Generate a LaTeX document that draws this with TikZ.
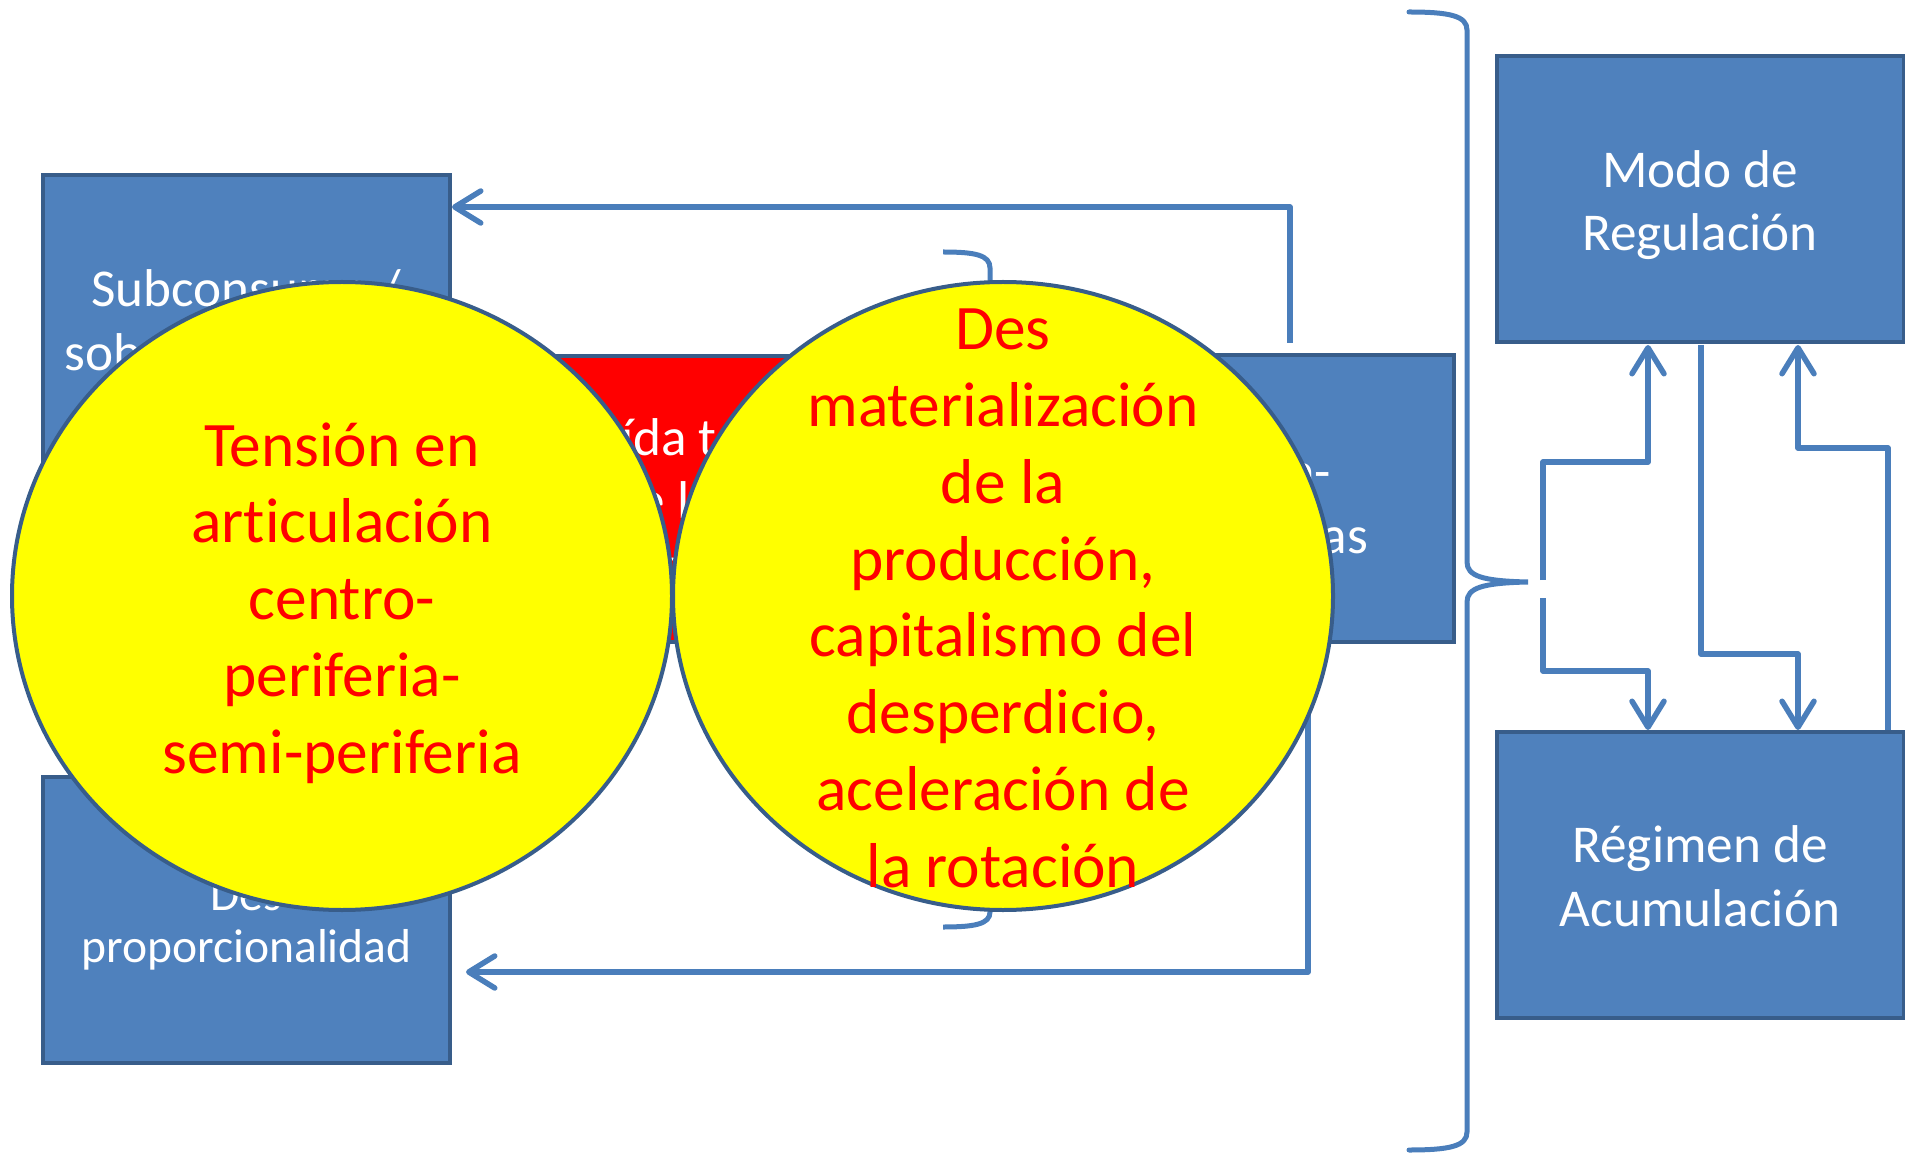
\documentclass[tikz,border=0pt]{standalone}
\usepackage{fontspec}
\setmainfont{Carlito}[Ligatures=NoCommon]
\usetikzlibrary{arrows.meta,shapes.geometric}
\definecolor{boxfill}{HTML}{4F81BD}
\definecolor{boxline}{HTML}{385D8A}
\definecolor{conn}{HTML}{4A7EBB}
\definecolor{ylw}{HTML}{FFFF00}
\definecolor{rd}{HTML}{FF0000}
\begin{document}
\begin{tikzpicture}[x=0.5pt,y=-0.5pt,
  box/.style={draw=boxline, line width=2pt, fill=boxfill, minimum width=203.5pt, minimum height=143pt, inner sep=0pt},
  redbox/.style={box, fill=rd},
  boxtext/.style={inner sep=0pt, text=white, align=center, font=\fontsize{26.6}{31.8}\selectfont},
  smalltext/.style={boxtext, font=\fontsize{23.8}{26}\selectfont},
  blob/.style={ellipse, draw=boxline, line width=2pt, fill=ylw, minimum width=330pt, minimum height=314pt, inner sep=0pt},
  blobtext/.style={text=rd, align=center, font=\fontsize{31.7}{38.4}\selectfont, inner sep=0pt},
  link/.style={draw=conn, line width=2.75pt, line join=round},
  arr/.style={link, -{Straight Barb[length=13pt,width=16pt,round]}},
  brace/.style={draw=conn, line width=2.5pt, line cap=round}
]
\useasboundingbox (0,0) rectangle (1905,1154);

% boxes
\node[box] (A) at (246.5,318.5) {};
\node[boxtext] (At) at ([yshift=-3pt]A.center) {Subconsumo /\\sobreproducción};
\node[box] (D) at (246.5,919.5) {};
\node[smalltext] (Dt) at ([yshift=-3pt]D.center) {Des\\proporcionalidad};
\node[redbox] (B) at (746.5,499) {};
\node[boxtext] (Bt) at ([yshift=-3pt]B.center) {Caída tendencial\\de la tasa de\\ganancia};
\node[box] (C) at (1250.5,498.5) {};
\node[boxtext] (Ct) at ([yshift=-3pt]C.center) {Contra-\\tendencias};
\node[box] (M) at (1700,199) {};
\node[boxtext] (Mt) at ([yshift=-3pt]M.center) {Modo de\\Regulación};
\node[box] (R) at (1700,874.5) {};
\node[boxtext] (Rt) at ([yshift=-1pt]R.center) {Régimen de\\Acumulación};

% named connector points
\coordinate (c1s) at (1290,343);
\coordinate (c1k) at (1290,207);
\coordinate (aIn) at (452,207);
\coordinate (c2s) at (1308,641);
\coordinate (c2k) at (1308,972);
\coordinate (dIn) at (466,972);

\coordinate (u0) at (1543,580);
\coordinate (u1) at (1543,462);
\coordinate (u2) at (1648,462);
\coordinate (uM) at (1648,345);
\coordinate (d0) at (1543,598);
\coordinate (d1) at (1543,671);
\coordinate (d2) at (1648,671);
\coordinate (dR) at (1648,730);
\coordinate (m0) at (1701,345);
\coordinate (m1) at (1701,654);
\coordinate (m2) at (1798,654);
\coordinate (mR) at (1798,730);
\coordinate (r0) at (1888,730);
\coordinate (r1) at (1888,448);
\coordinate (r2) at (1798,448);
\coordinate (rM) at (1798,345);

% connectors
\draw[arr] (c1s) -- (c1k) -- (aIn);
\draw[arr] (c2s) -- (c2k) -- (dIn);
\draw[arr] (u0) -- (u1) -- (u2) -- (uM);
\draw[arr] (d0) -- (d1) -- (d2) -- (dR);
\draw[arr] (m0) -- (m1) -- (m2) -- (mR);
\draw[arr] (r0) -- (r1) -- (r2) -- (rM);

% big brace
\draw[brace] (1409,12) .. controls (1450,12) and (1467,16) .. (1467,30)
  -- (1467,562) .. controls (1467,576) and (1482,581) .. (1528,582)
  .. controls (1482,583) and (1467,588) .. (1467,602)
  -- (1467,1132) .. controls (1467,1146) and (1450,1150) .. (1409,1150);

% small brace (mostly hidden)
\draw[brace, line cap=butt] (943,252) .. controls (975,252) and (990,255) .. (990,268)
  -- (990,575) .. controls (990,585) and (1000,589) .. (1030,589)
  .. controls (1000,589) and (990,593) .. (990,603)
  -- (990,912) .. controls (990,924) and (975,927) .. (943,927);

% circles
\node[blob] (E1) at (342,596) {};
\node[blob] (E2) at (1003,596) {};
\node[blobtext] (T1) at ([yshift=-3.5pt]E1.center) {Tensión en\\articulación\\centro-\\periferia-\\semi-periferia};
\node[blobtext] (T2) at ([yshift=-1.2pt]E2.center) {Des\\materialización\\de la\\producción,\\capitalismo del\\desperdicio,\\aceleración de\\la rotación};
\end{tikzpicture}
\end{document}
